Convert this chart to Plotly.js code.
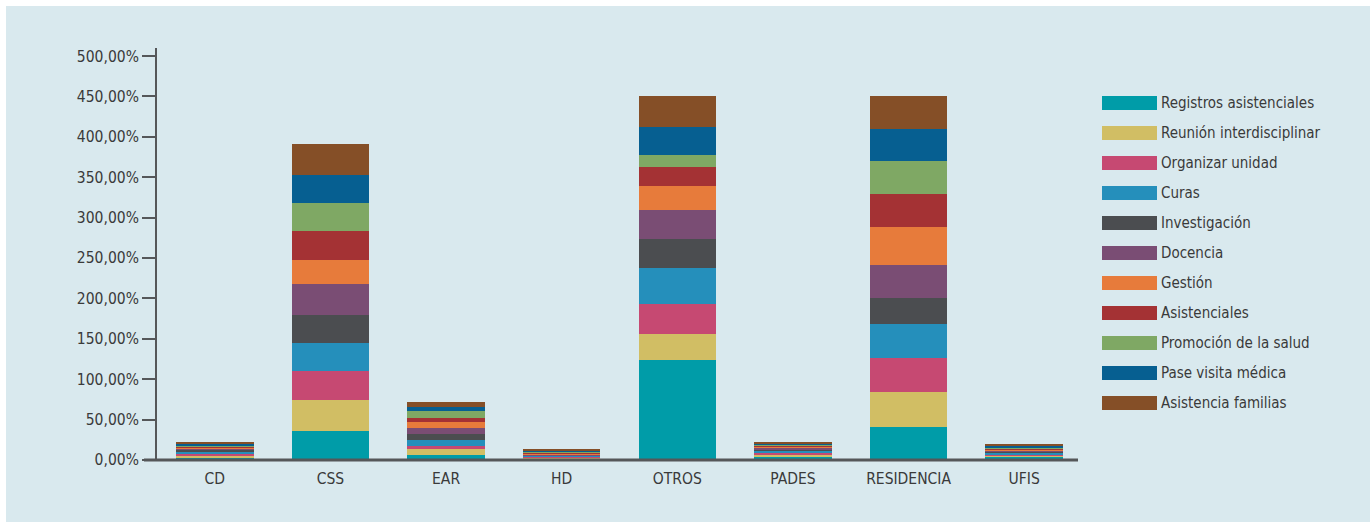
<!DOCTYPE html>
<html>
<head>
<meta charset="utf-8">
<script src="https://cdn.plot.ly/plotly-3.0.1.min.js"></script>
<style>
html,body{margin:0;padding:0;background:#ffffff;}
#chart{position:absolute;left:6px;top:6px;width:1364px;height:516px;}
</style>
</head>
<body>
<div id="chart"></div>
<script>
const categories = ["CD","CSS","EAR","HD","OTROS","PADES","RESIDENCIA","UFIS"];
const seriesNames = ["Registros asistenciales","Reunión interdisciplinar","Organizar unidad","Curas","Investigación","Docencia","Gestión","Asistenciales","Promoción de la salud","Pase visita médica","Asistencia familias"];
const seriesColors = ["#009ca8","#d1be64","#c64972","#258fbb","#4b4d50","#7a4d74","#e77b3b","#a43234","#7fa864","#065f91","#854f27"];
// values in %, per category (CD, CSS, EAR, HD, OTROS, PADES, RESIDENCIA, UFIS)
const registros     = [2.5, 36, 6.0, 1.5, 124, 4.0, 41, 4.0];
const reunion       = [2.5, 38, 7.5, 1.2,  32, 2.5, 43, 1.2];
const organizar     = [3.5, 36, 4.0, 1.2,  37, 2.5, 42, 1.2];
const curas         = [1.5, 35, 7.5, 1.2,  45, 2.5, 42, 2.5];
const investigacion = [2.5, 35, 7.5, 1.0,  36, 1.2, 33, 1.2];
const docencia      = [1.5, 38, 7.5, 1.2,  35, 2.5, 40, 1.2];
const gestion       = [1.5, 30, 7.5, 1.2,  30, 1.2, 48, 1.2];
const asistenciales = [1.5, 35, 5.0, 1.2,  24, 1.2, 40, 1.2];
const promocion     = [1.5, 35, 8.5, 1.0,  14, 1.2, 41, 1.2];
const paseVisita    = [1.5, 35, 5.0, 1.2,  35, 1.2, 40, 2.5];
const familias      = [2.5, 38, 6.0, 1.2,  38, 2.5, 40, 1.2];
const seriesValues = [registros, reunion, organizar, curas, investigacion, docencia, gestion, asistenciales, promocion, paseVisita, familias];
const yTickVals = [0,50,100,150,200,250,300,350,400,450,500];
const yTickText = ["0,00%","50,00%","100,00%","150,00%","200,00%","250,00%","300,00%","350,00%","400,00%","450,00%","500,00%"];

const FONT = "'Liberation Sans Narrow', 'Arial Narrow', 'DejaVu Sans Condensed', sans-serif";
const TXT = "#3a3a3a";
const AX = "#555759";

const traces = seriesNames.map((name, i) => ({
  type: "bar",
  name: name,
  x: categories,
  y: seriesValues[i],
  marker: {color: seriesColors[i], line: {width: 0}},
  hovertemplate: "%{x}<br>" + name + ": %{y:.2f}%<extra></extra>"
}));

// plot area in div px
const plotL = 151, plotR = 1076, plotT = 42, plotB = 454;
const pw = plotR - plotL, ph = plotB - plotT;
const px2x = p => (p - plotL) / pw;
const py2y = p => (plotB - p) / ph;

const shapes = [];
const annotations = [];
shapes.push({type: "line", xref: "paper", yref: "paper", x0: px2x(138), x1: px2x(1072), y0: 0, y1: 0,
  line: {color: AX, width: 3}, layer: "above"});

seriesNames.forEach((name, i) => {
  const cy = 97 + i * 30;
  shapes.push({type: "rect", xref: "paper", yref: "paper",
    x0: px2x(1096), x1: px2x(1151), y0: py2y(cy + 7), y1: py2y(cy - 7),
    fillcolor: seriesColors[i], line: {width: 0}});
  annotations.push({xref: "paper", yref: "paper", x: px2x(1153), y: py2y(cy),
    xanchor: "left", yanchor: "middle", showarrow: false, text: name,
    font: {family: FONT, size: 15, color: TXT}});
});

const layout = {
  width: 1364, height: 516,
  margin: {l: plotL, r: 1364 - plotR, t: plotT, b: 516 - plotB, pad: 0},
  paper_bgcolor: "#d9e9ee",
  plot_bgcolor: "#d9e9ee",
  barmode: "stack",
  bargap: 0.33,
  showlegend: false,
  font: {family: FONT, size: 15.5, color: TXT},
  xaxis: {
    type: "category",
    showline: false,
    ticks: "outside", ticklen: 4, tickcolor: "rgba(0,0,0,0)",
    showgrid: false, zeroline: false,
    tickfont: {family: FONT, size: 15.5, color: TXT}
  },
  yaxis: {
    range: [0, 510],
    tickvals: yTickVals, ticktext: yTickText,
    ticks: "outside", ticklen: 13, tickwidth: 2, tickcolor: AX,
    showline: true, linecolor: AX, linewidth: 2,
    showgrid: false, zeroline: false,
    tickfont: {family: FONT, size: 15.5, color: TXT}
  },
  shapes: shapes,
  annotations: annotations
};

Plotly.newPlot("chart", traces, layout, {displayModeBar: false});
</script>
</body>
</html>
